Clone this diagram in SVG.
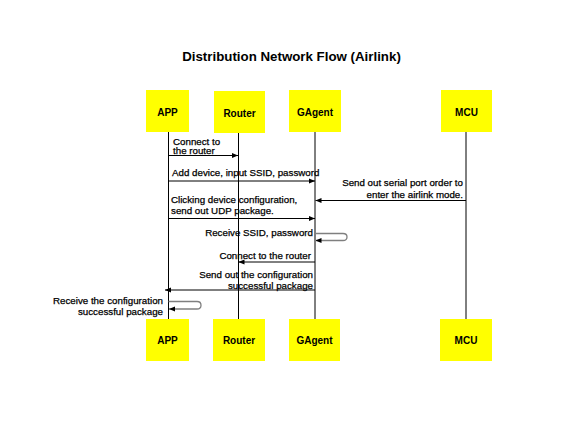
<svg xmlns="http://www.w3.org/2000/svg" width="567" height="427" viewBox="0 0 567 427">
<style>
.box{fill:#ffff00;stroke:none}
.lbl{font-family:"Liberation Sans",Arial,sans-serif;font-size:10px;font-weight:bold;fill:#000;text-anchor:middle}
.msg{font-family:"Liberation Sans",Arial,sans-serif;font-size:9.75px;fill:#000;stroke:#000;stroke-width:0.25}
.end{text-anchor:end}
.life{stroke:#000;stroke-width:1;fill:none}
.arr{stroke:#000;stroke-width:1;fill:none;marker-end:url(#ah)}
.loop{stroke:#7f7f7f;stroke-width:1.3;fill:none;marker-end:url(#ah)}
</style>
<defs>
<marker id="ah" viewBox="0 0 6 6" refX="6" refY="3" markerWidth="6" markerHeight="6" markerUnits="userSpaceOnUse" orient="auto">
<path d="M0,0.5 L6,3 L0,5.5 Z" fill="#000"/>
</marker>
</defs>
<rect width="567" height="427" fill="#fff"/>
<text x="291.5" y="61" style="font-family:'Liberation Sans',Arial,sans-serif;font-size:13.3px;font-weight:bold;text-anchor:middle">Distribution Network Flow (Airlink)</text>
<g id="lifelines">
<line class="life" x1="168.5" y1="132" x2="168.5" y2="319"/>
<line class="life" x1="238.5" y1="132" x2="238.5" y2="319"/>
<line class="life" x1="315" y1="132" x2="315" y2="319"/>
<line class="life" x1="466" y1="132" x2="466" y2="319"/>
</g>
<g id="app-top"><rect class="box" x="146" y="90" width="43" height="42"/><text class="lbl" x="167.5" y="116">APP</text></g>
<g id="router-top"><rect class="box" x="214" y="91" width="51" height="42"/><text class="lbl" x="239.5" y="116.5">Router</text></g>
<g id="gagent-top"><rect class="box" x="289" y="90" width="52" height="42"/><text class="lbl" x="315" y="115.5">GAgent</text></g>
<g id="mcu-top"><rect class="box" x="441" y="90" width="51" height="42"/><text class="lbl" x="466.5" y="115.5">MCU</text></g>
<g id="app-bottom"><rect class="box" x="146" y="319" width="43" height="42"/><text class="lbl" x="167.5" y="344.3">APP</text></g>
<g id="router-bottom"><rect class="box" x="213" y="319" width="52" height="42"/><text class="lbl" x="239" y="344.3">Router</text></g>
<g id="gagent-bottom"><rect class="box" x="289" y="319" width="51" height="42"/><text class="lbl" x="314.5" y="344.3">GAgent</text></g>
<g id="mcu-bottom"><rect class="box" x="440" y="319" width="52" height="42"/><text class="lbl" x="466" y="344.3">MCU</text></g>
<g id="connectors">
<line class="arr" x1="168.5" y1="155.5" x2="238" y2="155.5"/>
<line class="arr" x1="168.5" y1="181" x2="315" y2="181"/>
<line class="arr" x1="466" y1="200.5" x2="315.5" y2="200.5"/>
<line class="arr" x1="168.5" y1="218.5" x2="315" y2="218.5"/>
<path class="loop" d="M315,233.5 H343 Q347,233.5 347,237 Q347,240.5 343,240.5 H315.5"/>
<line class="arr" x1="315" y1="262" x2="238.5" y2="262"/>
<line class="arr" x1="315" y1="290" x2="165" y2="290"/>
<path class="loop" d="M168.5,301.5 H197 Q201,301.5 201,305.2 Q201,309 197,309 H169"/>
</g>
<g id="labels">
<text class="msg" x="173" y="144.5">Connect to</text>
<text class="msg" x="173" y="154.3">the router</text>
<text class="msg" x="172" y="175.5">Add device, input SSID, password</text>
<text class="msg end" x="463" y="185.8">Send out serial port order to</text>
<text class="msg end" x="463" y="197.5">enter the airlink mode.</text>
<text class="msg" x="171" y="202.5">Clicking device configuration,</text>
<text class="msg" x="171" y="213.5">send out UDP package.</text>
<text class="msg end" x="313" y="236">Receive SSID, password</text>
<text class="msg end" x="311" y="258.5">Connect to the router</text>
<text class="msg end" x="313" y="277.5">Send out the configuration</text>
<text class="msg end" x="313" y="288.5">successful package</text>
<text class="msg end" x="163" y="304">Receive the configuration</text>
<text class="msg end" x="163" y="315">successful package</text>
</g>
</svg>
